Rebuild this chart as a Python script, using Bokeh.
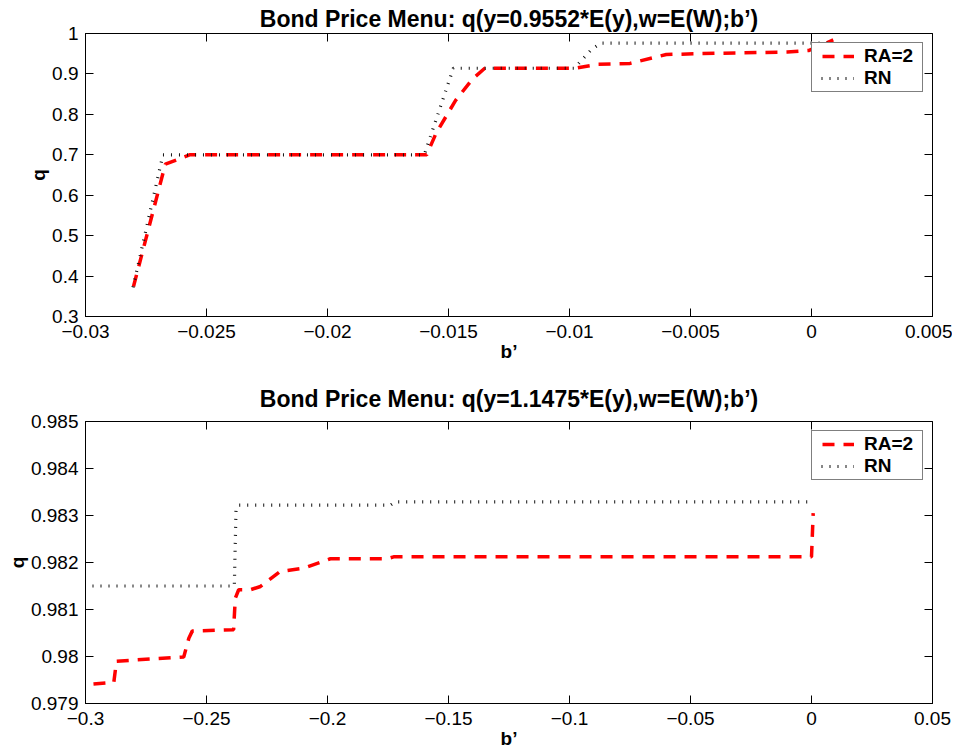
from bokeh.plotting import figure
from bokeh.layouts import column
from bokeh.models import LinearAxis, FixedTicker, Range1d, Legend, LegendItem
from bokeh.embed import file_html
from bokeh.resources import INLINE

# ---------------- data: top panel (y = 0.9552*E(y)) ----------------
top_title = "Bond Price Menu: q(y=0.9552*E(y),w=E(W);b\u2019)"
top_ra_b = [-0.0281, -0.0267, -0.0262, -0.0257, -0.0159, -0.0155, -0.0147, -0.0140, -0.0135,
            -0.0098, -0.0088, -0.0075, -0.0060, -0.0040, -0.0010, -0.0001, 0.0009]
top_ra_q = [0.355, 0.677, 0.688, 0.700, 0.700, 0.755, 0.835, 0.888, 0.914,
            0.914, 0.924, 0.926, 0.948, 0.951, 0.954, 0.958, 0.984]
top_rn_b = [-0.0281, -0.0268, -0.0160, -0.0148, -0.0098, -0.0091, -0.0087, 0.0009]
top_rn_q = [0.355, 0.700, 0.700, 0.914, 0.914, 0.960, 0.976, 0.976]
top_xticks = [-0.03, -0.025, -0.02, -0.015, -0.01, -0.005, 0.0, 0.005]
top_xlabels = ["\u22120.03", "\u22120.025", "\u22120.02", "\u22120.015", "\u22120.01", "\u22120.005", "0", "0.005"]
top_yticks = [0.3, 0.4, 0.5, 0.6, 0.7, 0.8, 0.9, 1.0]
top_ylabels = ["0.3", "0.4", "0.5", "0.6", "0.7", "0.8", "0.9", "1"]

# ---------------- data: bottom panel (y = 1.1475*E(y)) ----------------
bot_title = "Bond Price Menu: q(y=1.1475*E(y),w=E(W);b\u2019)"
bot_ra_b = [-0.3000, -0.2883, -0.2872, -0.2594, -0.2573, -0.2559, -0.2388, -0.2381, -0.2367,
            -0.2319, -0.2277, -0.2195, -0.2099, -0.1988, -0.1754, -0.1727, 0.0000, 0.0007]
bot_ra_q = [0.97940, 0.97945, 0.97990, 0.97999, 0.98039, 0.98054, 0.98057, 0.98124, 0.98142,
            0.98142, 0.98149, 0.98181, 0.98188, 0.98208, 0.98208, 0.98212, 0.98212, 0.98305]
bot_rn_b = [-0.3000, -0.2385, -0.2378, -0.2365, -0.1740, -0.1720, 0.0000]
bot_rn_q = [0.98150, 0.98150, 0.98315, 0.98322, 0.98322, 0.98329, 0.98329]
bot_xticks = [-0.3, -0.25, -0.2, -0.15, -0.1, -0.05, 0.0, 0.05]
bot_xlabels = ["\u22120.3", "\u22120.25", "\u22120.2", "\u22120.15", "\u22120.1", "\u22120.05", "0", "0.05"]
bot_yticks = [0.979, 0.98, 0.981, 0.982, 0.983, 0.984, 0.985]
bot_ylabels = ["0.979", "0.98", "0.981", "0.982", "0.983", "0.984", "0.985"]

series_names = ["RA=2", "RN"]

FONT = "Liberation Sans"


def style_axis(ax, ticks, labels=None, show_labels=True, standoff=7):
    ax.ticker = FixedTicker(ticks=ticks, minor_ticks=[])
    ax.major_tick_in = 8
    ax.major_tick_out = 0
    ax.minor_tick_in = 0
    ax.minor_tick_out = 0
    ax.major_tick_line_color = "black"
    ax.axis_line_color = "black"
    ax.major_label_text_font = FONT
    ax.major_label_text_color = "black"
    if show_labels:
        ax.major_label_overrides = {t: l for t, l in zip(ticks, labels)}
        ax.major_label_text_font_size = "19px"
        ax.major_label_standoff = standoff
    else:
        ax.major_label_text_color = None
        ax.major_label_standoff = 0
        ax.axis_line_color = None


def make_panel(title, ra_b, ra_q, rn_b, rn_q, xt, xl, yt, yl, xr, yr,
               height, top_border, bottom_border, title_standoff):
    p = figure(width=952, height=height, output_backend="svg", toolbar_location=None,
               x_range=Range1d(*xr), y_range=Range1d(*yr),
               min_border_left=85, min_border_right=20,
               min_border_top=top_border, min_border_bottom=bottom_border,
               x_axis_label="b\u2019", y_axis_label="q")
    p.grid.visible = False
    p.outline_line_color = "black"
    p.outline_line_width = 1
    p.background_fill_color = "white"
    p.border_fill_color = "white"

    p.title.text = title
    p.title.text_font = FONT
    p.title.text_font_size = "23px"
    p.title.text_font_style = "bold"
    p.title.align = "center"
    p.title.text_color = "black"
    p.title.standoff = title_standoff

    style_axis(p.xaxis[0], xt, xl, standoff=8)
    style_axis(p.yaxis[0], yt, yl, standoff=7)
    for ax in (p.xaxis[0], p.yaxis[0]):
        ax.axis_label_text_font = FONT
        ax.axis_label_text_font_size = "19px"
        ax.axis_label_text_font_style = "bold"
        ax.axis_label_text_color = "black"
    p.xaxis[0].axis_label_standoff = 0
    p.yaxis[0].axis_label_standoff = 0

    top_ax = LinearAxis()
    style_axis(top_ax, xt, show_labels=False)
    p.add_layout(top_ax, "above")
    right_ax = LinearAxis()
    style_axis(right_ax, yt, show_labels=False)
    p.add_layout(right_ax, "right")

    r_ra = p.line(ra_b, ra_q, line_color="#ff0000", line_width=3.5,
                  line_dash="12 9", line_dash_offset=13)
    r_rn = p.line(rn_b, rn_q, line_color="#111111", line_width=3.2,
                  line_dash="1 7", line_dash_offset=1)

    legend = Legend(items=[LegendItem(label=series_names[0], renderers=[r_ra]),
                           LegendItem(label=series_names[1], renderers=[r_rn])],
                    location="top_right")
    legend.margin = 9
    legend.padding = 2
    legend.spacing = 0
    legend.glyph_width = 40
    legend.glyph_height = 20
    legend.label_height = 20
    legend.label_width = 56
    legend.label_standoff = 10
    legend.label_text_font = FONT
    legend.label_text_font_size = "19px"
    legend.label_text_font_style = "bold"
    legend.label_text_color = "black"
    legend.border_line_color = "black"
    legend.border_line_width = 1.5
    legend.background_fill_color = "white"
    legend.background_fill_alpha = 1.0
    p.add_layout(legend, "center")
    return p


p1 = make_panel(top_title, top_ra_b, top_ra_q, top_rn_b, top_rn_q,
                top_xticks, top_xlabels, top_yticks, top_ylabels,
                (-0.03, 0.005), (0.3, 1.0), 373, 33, 57, 3)
p2 = make_panel(bot_title, bot_ra_b, bot_ra_q, bot_rn_b, bot_rn_q,
                bot_xticks, bot_xlabels, bot_yticks, bot_ylabels,
                (-0.3, 0.05), (0.979, 0.985), 382, 48, 52, 19)

layout = column(p1, p2, spacing=0)
open("out.html", "w").write(file_html(layout, INLINE))
